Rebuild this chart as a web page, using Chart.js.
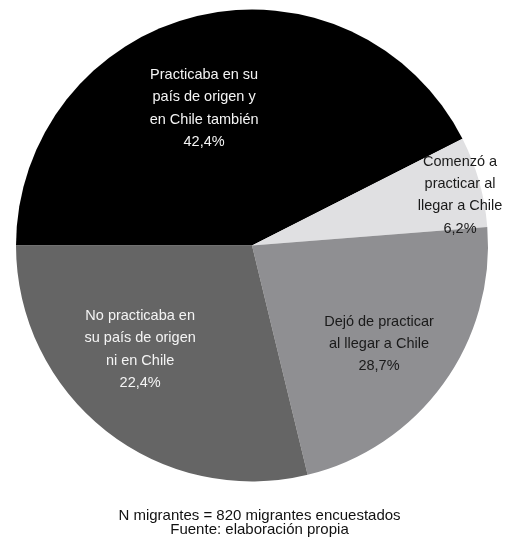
<!DOCTYPE html>
<html>
<head>
<meta charset="utf-8">
<script src="https://cdn.jsdelivr.net/npm/chart.js@4/dist/chart.umd.min.js"></script>
<style>
  html, body { margin: 0; padding: 0; background: #fff; }
  #wrap { width: 506px; height: 540px; position: relative; }
</style>
</head>
<body>
<div id="wrap"><canvas id="pie"></canvas></div>
<script>
// slices clockwise from 9 o'clock, as drawn in the reference
const categories = [
  ['Practicaba en su', 'país de origen y', 'en Chile también'],
  ['Comenzó a', 'practicar al', 'llegar a Chile'],
  ['Dejó de practicar', 'al llegar a Chile'],
  ['No practicaba en', 'su país de origen', 'ni en Chile']
];
const sliceValues = [42.4, 6.2, 22.4, 28.7];
// percentages as printed on the slices
const shownPercents = ['42,4%', '6,2%', '28,7%', '22,4%'];
const footerLines = ['N migrantes = 820 migrantes encuestados', 'Fuente: elaboración propia'];

const sliceColors = ['#000000', '#e0e0e2', '#8f8f92', '#656565'];
const textColors = ['#f4f4f4', '#1a1a1a', '#1a1a1a', '#f4f4f4'];
// where each label sits: t = fraction along the arc, r = fraction of radius
const labelSpots = [
  { t: 0.462, r: 0.615 },
  { t: 0.594, r: 0.907 },
  { t: 0.523, r: 0.681 },
  { t: 0.586, r: 0.647 }
];

const FONT = '"Liberation Sans", Arial, sans-serif';

const sliceLabels = {
  id: 'sliceLabels',
  afterDatasetsDraw(chart) {
    const ctx = chart.ctx;
    const meta = chart.getDatasetMeta(0);
    ctx.save();
    ctx.font = '14.5px ' + FONT;
    ctx.textAlign = 'center';
    ctx.textBaseline = 'middle';
    meta.data.forEach((arc, i) => {
      const p = arc.getProps(['x', 'y', 'startAngle', 'endAngle', 'outerRadius'], true);
      const spot = labelSpots[i];
      const a = p.startAngle + (p.endAngle - p.startAngle) * spot.t;
      const cx = p.x + Math.cos(a) * p.outerRadius * spot.r;
      const cy = p.y + Math.sin(a) * p.outerRadius * spot.r;
      const lines = categories[i].concat([shownPercents[i]]);
      const lh = 22.3;
      const top = cy - (lines.length - 1) * lh / 2;
      ctx.fillStyle = textColors[i];
      lines.forEach((ln, k) => ctx.fillText(ln, cx, top + k * lh));
    });

    // footer
    ctx.fillStyle = '#111';
    ctx.font = '15px ' + FONT;
    footerLines.forEach((ln, k) => ctx.fillText(ln, 259.5, 516 + k * 13.5));
    ctx.restore();
  }
};

new Chart(document.getElementById('pie'), {
  type: 'pie',
  data: {
    labels: categories.map(c => c.join(' ')),
    datasets: [{
      data: sliceValues,
      backgroundColor: sliceColors,
      borderWidth: 0
    }]
  },
  options: {
    responsive: true,
    maintainAspectRatio: false,
    animation: false,
    rotation: -90,
    layout: { padding: { left: 16, right: 18, top: 9.5, bottom: 58.5 } },
    plugins: {
      legend: { display: false },
      tooltip: { enabled: false }
    }
  },
  plugins: [sliceLabels]
});
</script>
</body>
</html>
